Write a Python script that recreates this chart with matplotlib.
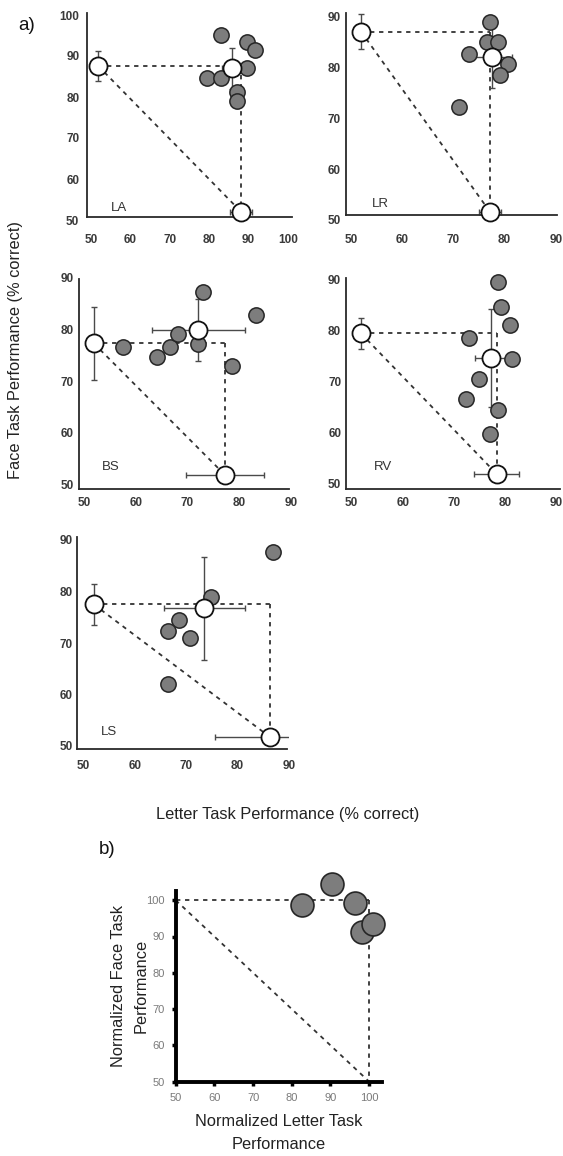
import matplotlib
matplotlib.use("Agg")
import matplotlib.pyplot as plt

plt.rcParams['font.family'] = ['Liberation Sans', 'DejaVu Sans']

W, H = 563, 1156
fig = plt.figure(figsize=(W / 100, H / 100), dpi=100)

# ---------------- data (panel a) ----------------
# LA
la_gray_x = [82.9, 89.5, 91.6, 89.5, 79.4, 82.9, 87.1, 87.1]
la_gray_y = [95.1, 93.5, 91.5, 87.0, 84.7, 84.7, 81.3, 79.0]
la_white_x = [51.8, 85.8, 88.1]
la_white_y = [87.6, 87.0, 52.0]
la_white_xerr = [0.0, 2.5, 2.8]
la_white_yerr = [3.6, 5.0, 0.0]

# LR
lr_gray_x = [77.15, 76.5, 78.8, 73.05, 80.7, 79.1, 71.0]
lr_gray_y = [89.0, 85.1, 85.1, 82.7, 80.8, 78.5, 72.3]
lr_white_x = [51.95, 77.6, 77.15]
lr_white_y = [87.1, 82.0, 51.6]
lr_white_xerr = [0.0, 3.8, 2.2]
lr_white_yerr = [3.5, 6.0, 0.0]

# BS
bs_gray_x = [57.5, 64.1, 66.6, 68.2, 72.1, 73.0, 78.7, 83.2]
bs_gray_y = [76.6, 74.6, 76.6, 79.1, 77.2, 87.2, 73.0, 82.8]
bs_white_x = [51.9, 72.1, 77.3]
bs_white_y = [77.3, 79.9, 51.8]
bs_white_xerr = [0.0, 9.0, 7.5]
bs_white_yerr = [7.1, 6.0, 0.0]

# RV
rv_gray_x = [78.75, 79.3, 81.0, 73.0, 81.4, 75.0, 72.5, 78.75, 77.1]
rv_gray_y = [89.55, 84.8, 81.2, 78.6, 74.5, 70.5, 66.6, 64.5, 59.9]
rv_white_x = [51.8, 77.3, 78.4]
rv_white_y = [79.55, 74.65, 52.0]
rv_white_xerr = [0.0, 3.1, 4.5]
rv_white_yerr = [3.0, 9.6, 0.0]

# LS
ls_gray_x = [86.8, 74.75, 68.7, 66.5, 70.7, 66.5]
ls_gray_y = [87.6, 79.0, 74.5, 72.3, 70.9, 62.0]
ls_white_x = [52.05, 73.55, 86.2]
ls_white_y = [77.5, 76.7, 51.8]
ls_white_xerr = [0.0, 7.95, 10.6]
ls_white_yerr = [3.95, 10.0, 0.0]

# ticks
ticks_la = [50, 60, 70, 80, 90, 100]
ticks_90 = [50, 60, 70, 80, 90]

# ---------------- data (panel b) ----------------
b_x = [82.6, 90.5, 96.4, 98.1, 100.9]
b_y = [98.6, 104.4, 99.1, 91.3, 93.4]
b_ticks = [50, 60, 70, 80, 90, 100]

GRAY = '#7d7d7d'
EDGE = '#262626'
DASH = '#333333'
TICKC = '#3a3a3a'


def make_ax(x50, kx, y50, ky, xlo, xhi, ylo, yhi):
    left_px = x50 + (xlo - 50) * kx
    right_px = x50 + (xhi - 50) * kx
    bottom_px = y50 - (ylo - 50) * ky
    top_px = y50 - (yhi - 50) * ky
    ax = fig.add_axes([left_px / W, 1 - bottom_px / H,
                       (right_px - left_px) / W, (bottom_px - top_px) / H])
    ax.set_xlim(xlo, xhi)
    ax.set_ylim(ylo, yhi)
    ax.patch.set_visible(False)
    return ax


def panel(x50, kx, y50, ky, spx, spy, xend, yend, xticks, yticks,
          gx, gy, wx, wy, wxe, wye, name, name_xy, xpad, ypad):
    xlo = min(spx, 49.5)
    ylo = min(spy, 49.5)
    ax = make_ax(x50, kx, y50, ky, xlo, xend, ylo, yend)
    for s in ['top', 'right']:
        ax.spines[s].set_visible(False)
    ax.spines['bottom'].set_position(('data', spy))
    ax.spines['left'].set_position(('data', spx))
    ax.spines['bottom'].set_bounds(spx, xend)
    ax.spines['left'].set_bounds(spy, yend)
    for s in ['bottom', 'left']:
        ax.spines[s].set_linewidth(1.3)
        ax.spines[s].set_color('#2a2a2a')
    ax.set_xticks(xticks)
    ax.set_yticks(yticks)
    ax.tick_params(axis='x', length=0, pad=xpad, labelsize=8.5, labelcolor=TICKC)
    ax.tick_params(axis='y', length=0, pad=ypad, labelsize=8.5, labelcolor=TICKC)
    for lab in ax.get_xticklabels() + ax.get_yticklabels():
        lab.set_fontweight('bold')
    # dashed triangle
    fx, fy = wx[0], wy[0]
    lx, ly = wx[2], wy[2]
    dkw = dict(color=DASH, lw=1.3, dashes=(2.4, 2.6), zorder=1)
    ax.plot([fx, lx], [fy, fy], **dkw)
    ax.plot([lx, lx], [fy, ly], **dkw)
    ax.plot([fx, lx], [fy, ly], **dkw)
    # error bars
    ax.errorbar(wx, wy, xerr=wxe, yerr=wye, fmt='none', ecolor='#4a4a4a',
                elinewidth=1.0, capsize=2.5, capthick=1.0, zorder=2)
    ax.plot(gx, gy, 'o', ms=11, mfc=GRAY, mec=EDGE, mew=1.1, zorder=3,
            clip_on=False)
    ax.plot(wx, wy, 'o', ms=13, mfc='white', mec='#111111', mew=1.3, zorder=4,
            clip_on=False)
    ax.text(name_xy[0], name_xy[1], name, fontsize=9.5, color='#333333',
            ha='center', va='center')
    return ax


# LA
panel(91, 3.94, 220, 4.1, 48.98, 50.73, 101.0, 100.5, ticks_la, ticks_la,
      la_gray_x, la_gray_y, la_white_x, la_white_y, la_white_xerr, la_white_yerr,
      'LA', (57.0, 53.0), 12.5, 5.5)
# LR
panel(351, 5.12, 220, 5.08, 49.02, 50.98, 90.2, 90.8, ticks_90, ticks_90,
      lr_gray_x, lr_gray_y, lr_white_x, lr_white_y, lr_white_xerr, lr_white_yerr,
      'LR', (55.8, 53.1), 13.5, 3.5)
# BS
panel(84, 5.22, 484.3, 5.19, 48.95, 49.1, 89.6, 89.8, ticks_90, ticks_90,
      bs_gray_x, bs_gray_y, bs_white_x, bs_white_y, bs_white_xerr, bs_white_yerr,
      'BS', (55.2, 53.3), 6.0, 3.5)
# RV
panel(351.7, 5.1, 484, 5.1, 48.9, 49.0, 90.8, 90.45, ticks_90, ticks_90,
      rv_gray_x, rv_gray_y, rv_white_x, rv_white_y, rv_white_xerr, rv_white_yerr,
      'RV', (56.2, 53.4), 6.0, 3.5)
# LS
panel(83.3, 5.21, 746, 5.15, 48.85, 49.36, 89.5, 90.6, ticks_90, ticks_90,
      ls_gray_x, ls_gray_y, ls_white_x, ls_white_y, ls_white_xerr, ls_white_yerr,
      'LS', (55.0, 52.8), 8.0, 3.5)

# ---------------- panel b ----------------
axb = make_ax(175.7, 3.87, 1081.7, 3.63, 50, 103.2, 50, 102.6)
for s in ['top', 'right']:
    axb.spines[s].set_visible(False)
for s in ['bottom', 'left']:
    axb.spines[s].set_linewidth(2.8)
    axb.spines[s].set_color('black')
axb.set_xticks(b_ticks)
axb.set_yticks(b_ticks)
axb.tick_params(length=3, width=2.5, direction='out', color='black',
                labelsize=8, labelcolor='#7a7a7a', pad=5)
dkw = dict(color=DASH, lw=1.3, dashes=(2.4, 2.6), zorder=1)
axb.plot([50, 100], [100, 100], **dkw)
axb.plot([100, 100], [100, 50], **dkw)
axb.plot([50, 100], [100, 50], **dkw)
axb.plot(b_x, b_y, 'o', ms=16.5, mfc=GRAY, mec=EDGE, mew=1.2, zorder=3,
         clip_on=False)
axb.set_xlabel('Normalized Letter Task\nPerformance', fontsize=11.8,
               color='#222222', linespacing=1.65, labelpad=8)
axb.set_ylabel('Normalized Face Task\nPerformance', fontsize=11.8,
               color='#222222', linespacing=1.65, labelpad=-2)

# ---------------- figure labels ----------------
fig.text(27 / W, 1 - 25 / H, 'a)', fontsize=13.5, ha='center', va='center',
         color='#111111')
fig.text(107 / W, 1 - 850 / H, 'b)', fontsize=13.5, ha='center', va='center',
         color='#111111')
fig.text(16 / W, 1 - 350 / H, 'Face Task Performance (% correct)', fontsize=11.8,
         rotation=90, ha='center', va='center', color='#222222')
fig.text(288 / W, 1 - 815 / H, 'Letter Task Performance (% correct)', fontsize=11.8,
         ha='center', va='center', color='#222222')

fig.savefig('out.png', dpi=100)
